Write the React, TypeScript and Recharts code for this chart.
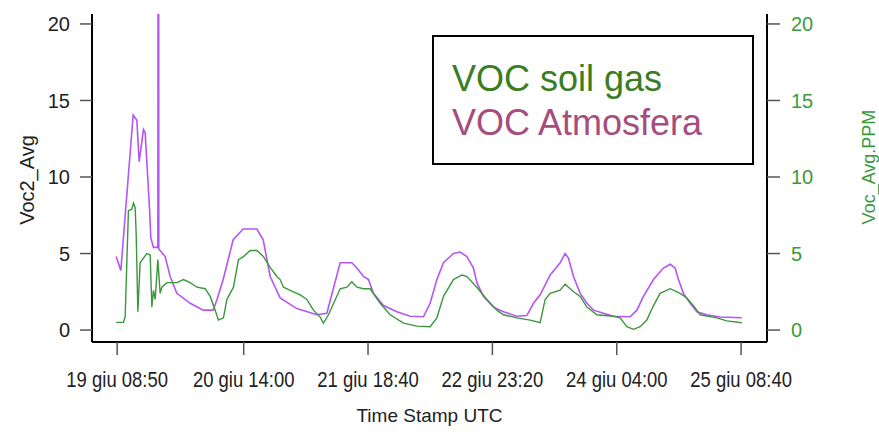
import { LineChart, Line, XAxis, YAxis } from 'recharts';

// hours since 19 giu 08:50
const tickHours = [0, 29.17, 57.83, 86.5, 115.17, 143.83];
const tickLabels = ['19 giu 08:50', '20 giu 14:00', '21 giu 18:40', '22 giu 23:20', '24 giu 04:00', '25 giu 08:40'];
const yTicks = [0, 5, 10, 15, 20];

// VOC Atmosfera (Voc2_Avg)
const atmHours = [
  -0.23, 0.85, 3.69, 4.54, 5.07, 6.06, 6.45, 7.45, 7.77, 8.37, 9.38, 9.45, 9.55, 9.6, 11.07, 12.22, 13.76,
  16.83, 19.82, 22.13, 22.98, 24.44, 26.74, 29.05, 32.2, 33.66, 35.27, 37.57, 41.42, 46.04, 48.34,
  51.41, 52.17, 54.1, 55.26, 56.78, 57.93, 59.08, 61.39, 64.48, 67.54, 70.61, 72.15, 73.7, 75.22,
  77.52, 79.07, 80.61, 82.13, 82.92, 84.44, 86.74, 89.05, 92.14, 94.44, 95.97, 97.51, 99.82, 102.12,
  103.27, 104.03, 105.19, 106.73, 108.28, 109.8, 112.1, 114.41, 118.26, 119.8, 121.32, 123.63, 125.93,
  127.48, 128.63, 129.39, 130.54, 132.09, 133.63, 135.94, 139.0, 144.0,
];
const atmVoc = [
  4.8, 3.9, 14.05, 13.7, 11.0, 13.1, 12.9, 8.0, 6.0, 5.4, 5.4, 30, 30, 5.3, 4.8, 3.5, 2.4,
  1.75, 1.3, 1.3, 1.96, 3.3, 5.9, 6.6, 6.6, 5.9, 3.5, 2.1, 1.4, 1.0, 1.1,
  4.4, 4.4, 4.4, 4.05, 3.5, 3.3, 2.4, 1.6, 1.2, 0.9, 0.87, 1.75, 3.3, 4.4,
  5.0, 5.1, 4.8, 4.05, 3.1, 2.2, 1.5, 1.2, 0.9, 0.95, 1.75, 2.3, 3.6, 4.4,
  5.0, 4.7, 3.5, 2.4, 1.75, 1.3, 1.1, 0.9, 0.87, 1.3, 2.2, 3.3, 4.05,
  4.3, 4.05, 3.3, 2.4, 1.75, 1.2, 1.0, 0.85, 0.8,
];

// VOC soil gas (Voc_Avg.PPM)
const soilHours = [
  -0.23, 1.45, 1.84, 2.6, 3.39, 3.76, 4.15, 4.38, 4.77, 5.3, 6.06, 6.85, 7.61, 8.0, 8.37, 8.76, 9.38,
  9.91, 10.3, 11.46, 13.76, 15.28, 16.83, 18.37, 20.29, 21.44, 22.59, 23.35, 24.5, 25.29, 26.81, 27.96,
  29.11, 30.66, 32.2, 33.73, 35.27, 36.81, 37.57, 38.34, 39.88, 42.19, 43.73, 45.25, 46.8, 47.56, 48.71,
  51.41, 52.95, 54.1, 55.26, 56.78, 58.32, 60.63, 62.93, 66.0, 69.09, 72.15, 73.7, 75.22, 77.52, 79.46,
  80.61, 82.92, 85.22, 87.53, 89.05, 92.14, 95.2, 97.51, 98.66, 99.82, 102.12, 103.27, 105.19, 106.73,
  108.28, 110.58, 114.41, 115.95, 117.49, 119.03, 120.56, 122.1, 123.63, 125.17, 127.48, 129.78, 131.32,
  132.84, 134.39, 138.24, 140.55, 144.0,
];
const soilVoc = [
  0.5, 0.5, 0.85, 7.8, 7.9, 8.3, 8.0, 6.3, 1.2, 4.4, 4.7, 5.0, 4.9, 1.5, 2.6, 2.0, 4.6,
  2.4, 2.8, 3.1, 3.1, 3.3, 3.1, 2.8, 2.7, 2.2, 1.3, 0.65, 0.8, 2.0, 2.8, 4.6,
  4.8, 5.2, 5.2, 4.8, 4.1, 3.5, 3.3, 2.8, 2.6, 2.3, 2.0, 1.3, 0.85, 0.45, 1.0,
  2.7, 2.8, 3.15, 2.8, 2.7, 2.7, 1.75, 1.0, 0.45, 0.26, 0.22, 0.8, 2.2, 3.3, 3.6,
  3.5, 2.8, 2.0, 1.3, 1.0, 0.8, 0.65, 0.48, 2.0, 2.4, 2.6, 3.0, 2.5, 2.2,
  1.5, 1.0, 0.9, 0.8, 0.22, 0.05, 0.22, 0.65, 1.6, 2.4, 2.7, 2.4, 2.1,
  1.6, 1.0, 0.8, 0.6, 0.48,
];

const atmData = atmHours.map((t, i) => ({ t, v: atmVoc[i] }));
const soilData = soilHours.map((t, i) => ({ t, v: soilVoc[i] }));

const sans = '"Liberation Sans", Arial, sans-serif';
const green = '#3c9a3c';

// R output was squeezed horizontally, so the time labels are drawn condensed
const TimeTick = (props: any) => {
  const { x, y, payload } = props;
  return (
    <g transform={`translate(${x},${y}) scale(0.84,1)`}>
      <text textAnchor="middle" dy="0.75em" fontFamily={sans} fontSize={22} fill="#222">
        {tickLabels[tickHours.indexOf(payload.value)]}
      </text>
    </g>
  );
};

export default function App() {
  return (
    <div style={{ position: 'absolute', left: 0, top: 0, width: 879, height: 432, background: '#fff' }}>
      <LineChart width={879} height={432} margin={{ top: 14, right: 52, left: 32, bottom: 40 }}>
        <XAxis
          xAxisId="b"
          dataKey="t"
          type="number"
          domain={[-5.8, 149.8]}
          ticks={tickHours}
          interval={0}
          height={50}
          tickSize={13}
          tickMargin={15}
          stroke="#000"
          strokeWidth={2}
          tickLine={{ stroke: '#555', strokeWidth: 1.5 }}
          tick={<TimeTick />}
          label={{ value: 'Time Stamp UTC', position: 'insideBottom', offset: -30, fontFamily: sans, fontSize: 19, fill: '#222' }}
        />
        <XAxis xAxisId="top" orientation="top" dataKey="t" type="number" domain={[-5.8, 149.8]} height={0} tick={false} tickLine={false} stroke="#000" strokeWidth={2} />
        <YAxis
          yAxisId="l"
          type="number"
          domain={[-0.78, 20.65]}
          allowDataOverflow
          ticks={yTicks}
          width={60}
          tickSize={12}
          tickMargin={10}
          stroke="#000"
          strokeWidth={2}
          tickLine={{ stroke: '#555', strokeWidth: 1.5 }}
          tick={{ fontFamily: sans, fontSize: 20, fill: '#222' }}
          label={{ value: 'Voc2_Avg', angle: -90, position: 'center', dx: -35, dy: 2, fontFamily: sans, fontSize: 20, fill: '#222' }}
        />
        <YAxis
          yAxisId="r"
          orientation="right"
          type="number"
          domain={[-0.78, 20.65]}
          allowDataOverflow
          ticks={yTicks}
          width={60}
          tickSize={13}
          tickMargin={11}
          stroke="#000"
          strokeWidth={2}
          tickLine={{ stroke: '#555', strokeWidth: 1.5 }}
          tick={{ fontFamily: sans, fontSize: 20, fill: green }}
          label={{ value: 'Voc_Avg.PPM', angle: -90, position: 'center', dx: 72, dy: -11, fontFamily: sans, fontSize: 18, fill: green }}
        />
        <Line xAxisId="b" yAxisId="l" data={atmData} dataKey="v" name="VOC Atmosfera" type="linear" stroke="#b455f7" strokeWidth={1.6} dot={false} isAnimationActive={false} />
        <Line xAxisId="b" yAxisId="r" data={soilData} dataKey="v" name="VOC soil gas" type="linear" stroke="#3c963c" strokeWidth={1.4} dot={false} isAnimationActive={false} />
      </LineChart>
      <div
        style={{
          position: 'absolute',
          left: 432,
          top: 35,
          width: 322,
          height: 130,
          border: '2px solid #000',
          fontFamily: sans,
          fontSize: 36,
          lineHeight: '44px',
          padding: '20px 0 0 18px',
          boxSizing: 'border-box',
        }}
      >
        <div style={{ color: '#3a7d22' }}>VOC soil gas</div>
        <div style={{ color: '#a64d7e' }}>VOC Atmosfera</div>
      </div>
    </div>
  );
}
